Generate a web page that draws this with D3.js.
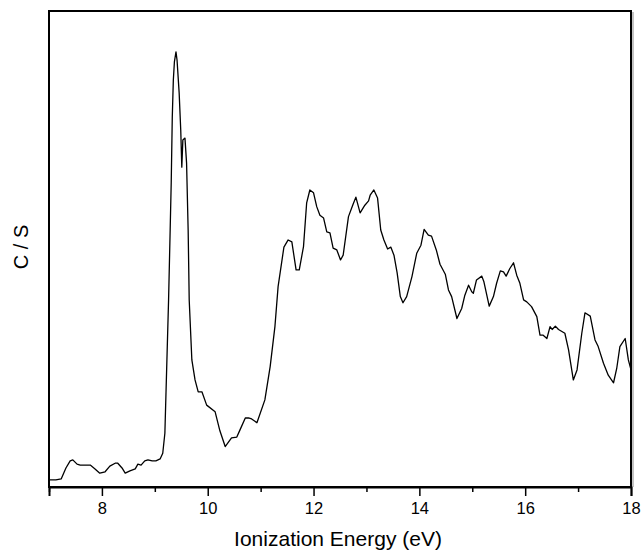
<!DOCTYPE html>
<html>
<head>
<meta charset="utf-8">
<script src="https://cdn.jsdelivr.net/npm/d3@7"></script>
<style>
  body { margin: 0; background: #fff; }
</style>
</head>
<body>
<div id="chart"></div>
<script>
// photoelectron spectrum, intensity in arbitrary units (0-100)
var energy = [7.00, 7.13, 7.23, 7.32, 7.40, 7.45, 7.53, 7.59, 7.68, 7.78, 7.87, 7.96, 8.06, 8.15, 8.25, 8.30, 8.38, 8.44, 8.53, 8.63,
  8.68, 8.74, 8.81, 8.87, 8.95, 9.02, 9.10, 9.15, 9.19, 9.26, 9.29, 9.31, 9.33, 9.35, 9.37, 9.40, 9.42, 9.46, 9.49, 9.51,
  9.53, 9.57, 9.60, 9.63, 9.65, 9.70, 9.76, 9.82, 9.89, 9.98, 10.14, 10.23, 10.33, 10.45, 10.55, 10.61, 10.71, 10.77, 10.83, 10.93,
  11.08, 11.18, 11.27, 11.33, 11.44, 11.52, 11.59, 11.67, 11.73, 11.81, 11.87, 11.93, 12.00, 12.06, 12.12, 12.19, 12.25, 12.31, 12.37, 12.44,
  12.51, 12.56, 12.66, 12.74, 12.80, 12.88, 12.97, 13.04, 13.07, 13.14, 13.21, 13.27, 13.33, 13.40, 13.46, 13.52, 13.58, 13.64, 13.69, 13.76,
  13.86, 13.95, 14.03, 14.09, 14.17, 14.23, 14.32, 14.39, 14.49, 14.55, 14.61, 14.71, 14.80, 14.86, 14.93, 14.99, 15.02, 15.08, 15.18, 15.22,
  15.32, 15.40, 15.46, 15.53, 15.59, 15.64, 15.71, 15.78, 15.84, 15.90, 15.97, 16.03, 16.12, 16.22, 16.28, 16.34, 16.41, 16.47, 16.51, 16.57,
  16.63, 16.75, 16.82, 16.91, 16.98, 17.07, 17.13, 17.23, 17.32, 17.38, 17.48, 17.57, 17.67, 17.73, 17.79, 17.89, 17.95, 18.00];

var intensity = [1.5, 1.5, 1.7, 4.0, 5.5, 5.7, 4.8, 4.6, 4.6, 4.6, 3.8, 2.9, 3.2, 4.4, 5.0, 5.0, 4.0, 2.9, 3.4, 3.8,
  4.8, 4.6, 5.5, 5.7, 5.5, 5.5, 5.9, 7.1, 11.3, 39.3, 54.0, 63.9, 77.7, 85.5, 89.3, 91.4, 89.7, 82.8, 75.0, 67.2,
  72.9, 73.3, 68.1, 54.0, 39.3, 26.7, 22.5, 20.0, 20.0, 17.2, 15.8, 11.8, 8.5, 10.3, 10.5, 12.0, 14.5, 14.5, 14.3, 13.5,
  18.3, 25.3, 33.7, 42.1, 50.4, 51.9, 51.5, 45.6, 45.6, 50.5, 59.7, 62.4, 61.8, 58.9, 57.1, 56.5, 53.6, 53.4, 50.2, 49.8,
  47.7, 48.7, 56.8, 59.2, 60.9, 57.6, 59.2, 60.1, 61.3, 62.4, 60.7, 54.0, 51.9, 50.0, 50.4, 48.7, 45.0, 40.0, 38.7, 40.0,
  44.2, 49.1, 50.8, 54.1, 52.9, 52.7, 49.8, 46.8, 44.7, 41.4, 40.0, 35.4, 37.5, 40.3, 42.4, 41.0, 40.7, 43.5, 44.3, 43.1,
  38.0, 40.0, 42.8, 45.4, 45.2, 44.3, 45.9, 47.1, 44.5, 42.8, 39.3, 38.9, 37.9, 35.8, 31.9, 31.9, 31.2, 33.7, 33.1, 33.8,
  33.1, 32.3, 28.8, 22.5, 24.6, 32.3, 36.6, 35.9, 30.9, 29.5, 26.0, 23.5, 21.9, 24.9, 29.5, 31.2, 26.7, 24.6];

var majorTicks = [8, 10, 12, 14, 16, 18];
var minorTicks = [7, 9, 11, 13, 15, 17];
var xTitle = "Ionization Energy (eV)";
var yTitle = "C / S";

var width = 643, height = 550;
var margin = {top: 11, right: 12, bottom: 63, left: 49};

var x = d3.scaleLinear().domain([7, 18]).range([margin.left, width - margin.right]);
var y = d3.scaleLinear().domain([0, 100]).range([height - margin.bottom, margin.top]);

var svg = d3.select("#chart").append("svg")
  .attr("width", width)
  .attr("height", height)
  .attr("font-family", "Liberation Sans, Arial, sans-serif");

var data = energy.map((e, i) => ({e: e, v: intensity[i]}));

// frame
svg.append("rect")
  .attr("x", x(7))
  .attr("y", y(100))
  .attr("width", x(18) - x(7))
  .attr("height", y(0) - y(100))
  .attr("fill", "none")
  .attr("stroke", "#000")
  .attr("stroke-width", 2);

svg.append("line")
  .attr("x1", x(18) + 2).attr("x2", x(18) + 2)
  .attr("y1", y(100) + 1).attr("y2", y(0))
  .attr("stroke", "#888")
  .attr("stroke-width", 1);

// x axis
var xAxis = d3.axisBottom(x).tickValues(majorTicks).tickSize(9).tickPadding(6).tickFormat(d3.format("d"));
var gx = svg.append("g").attr("transform", `translate(0,${y(0)})`).call(xAxis);
gx.select(".domain").attr("stroke-width", 2);
gx.selectAll(".tick line").attr("stroke-width", 1.5);
gx.selectAll(".tick text").attr("font-size", 16.5).attr("fill", "#000").attr("font-family", "Liberation Sans, Arial, sans-serif");

var gm = svg.append("g").attr("transform", `translate(0,${y(0)})`)
  .call(d3.axisBottom(x).tickValues(minorTicks).tickSize(5).tickFormat(""));
gm.select(".domain").remove();
gm.selectAll(".tick line").attr("stroke-width", 1.5);

svg.append("text")
  .attr("x", 338)
  .attr("y", 546)
  .attr("text-anchor", "middle")
  .attr("font-size", 21)
  .attr("fill", "#000")
  .text(xTitle);

svg.append("text")
  .attr("transform", `translate(28,${(y(0) + y(100)) / 2 - 2}) rotate(-90)`)
  .attr("text-anchor", "middle")
  .attr("font-size", 20)
  .attr("fill", "#000")
  .text(yTitle);

var line = d3.line().x(d => x(d.e)).y(d => y(d.v));

svg.append("path")
  .datum(data)
  .attr("fill", "none")
  .attr("stroke", "#000")
  .attr("stroke-width", 1.3)
  .attr("stroke-linejoin", "round")
  .attr("d", line);
</script>
</body>
</html>
